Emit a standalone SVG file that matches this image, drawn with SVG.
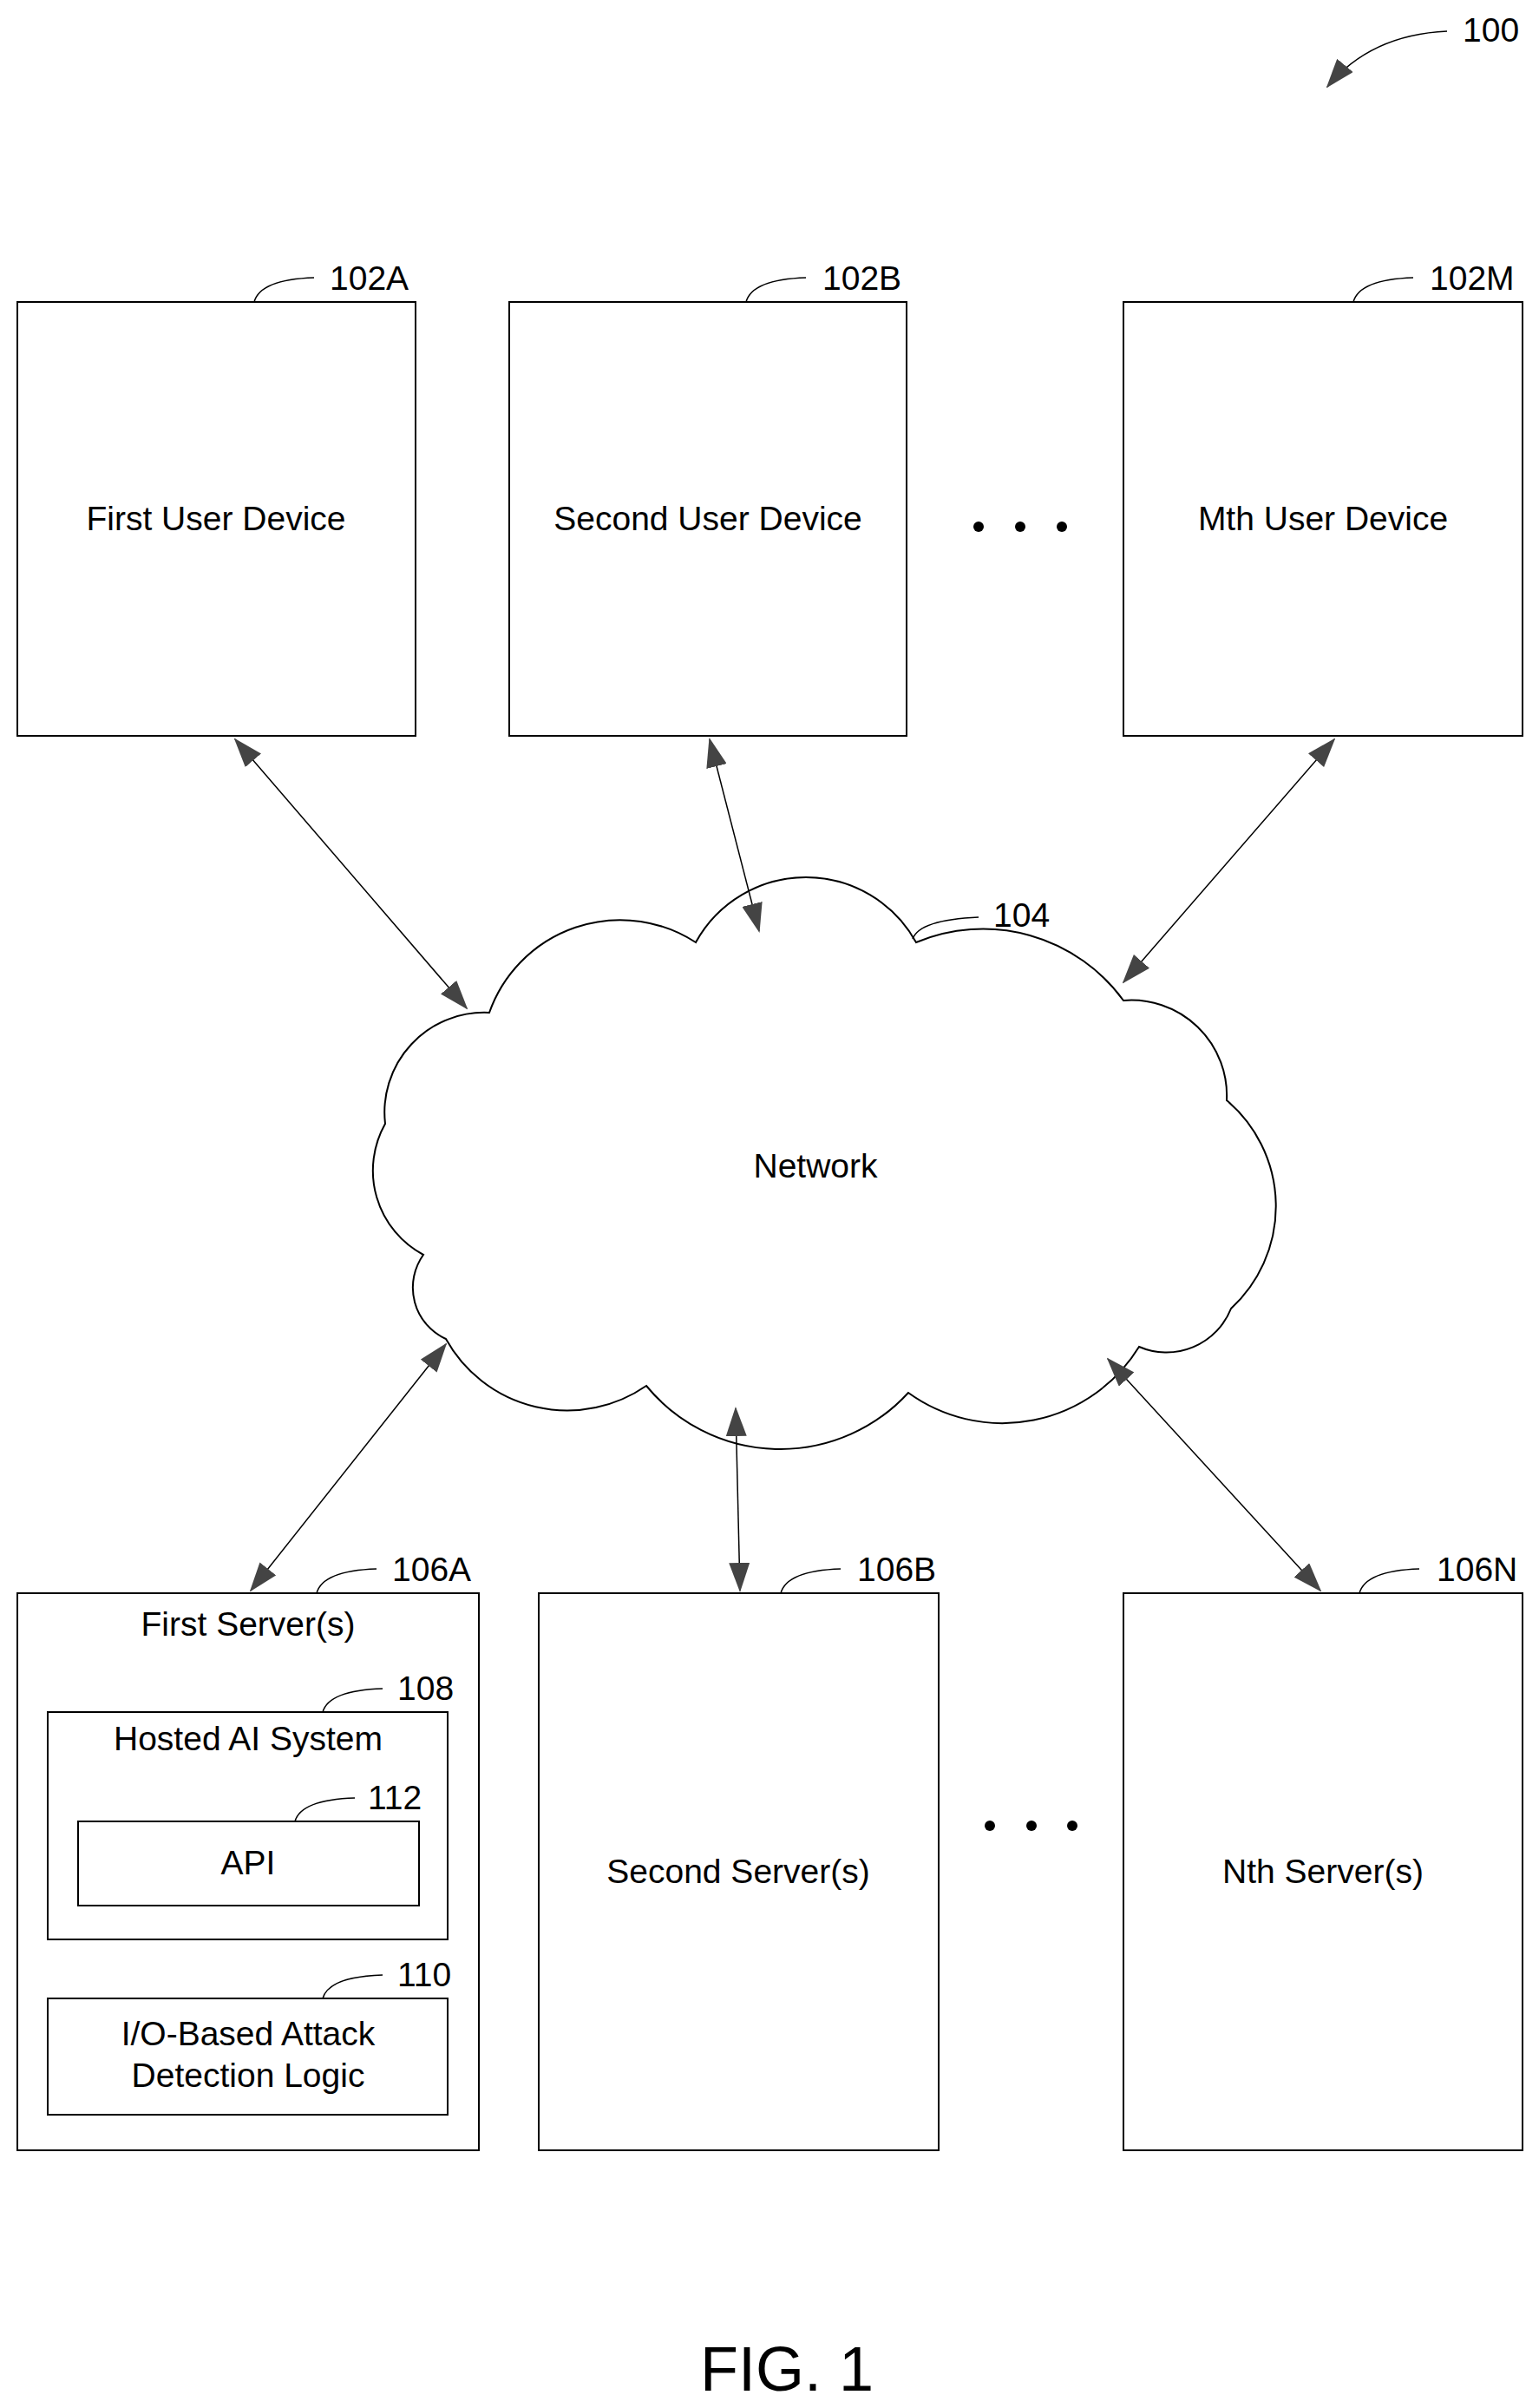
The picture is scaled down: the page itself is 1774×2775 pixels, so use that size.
<svg xmlns="http://www.w3.org/2000/svg" width="1774" height="2775" viewBox="0 0 1774 2775">
<style>
.b{fill:#fff;stroke:#000;stroke-width:2}
.t{font-family:"Liberation Sans",Arial,sans-serif;font-size:39px;fill:#000;text-anchor:middle}
.l{font-family:"Liberation Sans",Arial,sans-serif;font-size:39px;fill:#000}
.ld{fill:none;stroke:#000;stroke-width:1.5}
.c{fill:none;stroke:#000;stroke-width:1.5;marker-start:url(#ah);marker-end:url(#ah)}
</style>
<defs>
<marker id="ah" markerUnits="userSpaceOnUse" markerWidth="34" markerHeight="24" refX="32" refY="12" orient="auto-start-reverse" viewBox="0 0 34 24"><path d="M0,0 L34,12 L0,24 Z" fill="#444"/></marker>
</defs>
<g id="ref100"><text class="l" x="1686" y="48">100</text><path class="ld" d="M1668,36 Q1580,40 1530,100" marker-end="url(#ah)"/></g>
<g id="n102A"><rect class="b" x="20" y="348" width="459" height="500"/><text class="t" x="249" y="611">First User Device</text><path class="ld" d="M293,348 Q300,322 362,320"/><text class="l" x="380" y="334">102A</text></g>
<g id="n102B"><rect class="b" x="587" y="348" width="458" height="500"/><text class="t" x="816" y="611">Second User Device</text><path class="ld" d="M860,348 Q867,322 929,320"/><text class="l" x="948" y="334">102B</text></g>
<g id="dots1"><circle cx="1128" cy="607" r="6"/><circle cx="1176" cy="607" r="6"/><circle cx="1224" cy="607" r="6"/></g>
<g id="n102M"><rect class="b" x="1295" y="348" width="460" height="500"/><text class="t" x="1525" y="611">Mth User Device</text><path class="ld" d="M1560,348 Q1567,322 1629,320"/><text class="l" x="1648" y="334">102M</text></g>
<g id="n104"><path class="b" d="M564,1167 A160,160 0 0 1 802,1086 A145,145 0 0 1 1056,1086 A200,200 0 0 1 1295,1153 A110,110 0 0 1 1414,1268 A160,160 0 0 1 1419,1508 A80,80 0 0 1 1313,1552 A185,185 0 0 1 1047,1605 A200,200 0 0 1 745,1597 A160,160 0 0 1 514,1543 A65,65 0 0 1 488,1446 A110,110 0 0 1 444,1295 A115,115 0 0 1 564,1167 Z"/><text class="t" x="940" y="1357">Network</text><path class="ld" d="M1052,1082 Q1060,1060 1128,1057"/><text class="l" x="1145" y="1068">104</text></g>
<g id="n106A"><rect class="b" x="20" y="1836" width="532" height="642"/><text class="t" x="286" y="1885">First Server(s)</text><path class="ld" d="M365,1836 Q372,1810 434,1808"/><text class="l" x="452" y="1822">106A</text>
<g id="n108"><rect class="b" x="55" y="1973" width="461" height="262"/><text class="t" x="286" y="2017">Hosted AI System</text><path class="ld" d="M372,1973 Q379,1948 441,1946"/><text class="l" x="458" y="1959">108</text></g>
<g id="n112"><rect class="b" x="90" y="2099" width="393" height="97"/><text class="t" x="286" y="2160">API</text><path class="ld" d="M340,2099 Q347,2074 409,2072"/><text class="l" x="424" y="2085">112</text></g>
<g id="n110"><rect class="b" x="55" y="2303" width="461" height="134"/><text class="t" x="286" y="2357">I/O-Based Attack</text><text class="t" x="286" y="2405">Detection Logic</text><path class="ld" d="M372,2303 Q379,2278 441,2276"/><text class="l" x="458" y="2289">110</text></g></g>
<g id="n106B"><rect class="b" x="621" y="1836" width="461" height="642"/><text class="t" x="851" y="2170">Second Server(s)</text><path class="ld" d="M900,1836 Q907,1810 969,1808"/><text class="l" x="988" y="1822">106B</text></g>
<g id="dots2"><circle cx="1141" cy="2104" r="6"/><circle cx="1189" cy="2104" r="6"/><circle cx="1236" cy="2104" r="6"/></g>
<g id="n106N"><rect class="b" x="1295" y="1836" width="460" height="642"/><text class="t" x="1525" y="2170">Nth Server(s)</text><path class="ld" d="M1567,1836 Q1574,1810 1636,1808"/><text class="l" x="1656" y="1822">106N</text></g>
<g id="connectors">
<line class="c" x1="271" y1="852" x2="538" y2="1162"/>
<line class="c" x1="818" y1="852" x2="875" y2="1073"/>
<line class="c" x1="1538" y1="852" x2="1295" y2="1132"/>
<line class="c" x1="514" y1="1549" x2="289" y2="1833"/>
<line class="c" x1="848" y1="1623" x2="853" y2="1833"/>
<line class="c" x1="1277" y1="1566" x2="1522" y2="1833"/>
</g>
<text class="t" x="907" y="2755" style="font-size:72px">FIG. 1</text>
</svg>
